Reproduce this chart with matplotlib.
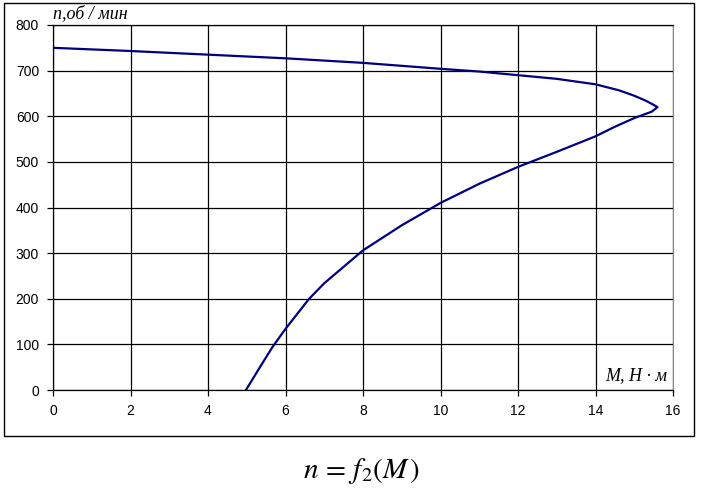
import matplotlib
matplotlib.use("Agg")
import matplotlib.pyplot as plt
from matplotlib.patches import Rectangle

# torque M (N*m) and speed n (rpm)
M = [0, 2, 4, 6, 8, 10, 11, 12, 13, 14, 14.6, 15.0, 15.3, 15.5, 15.6,
     15.45, 15.0, 14.5, 14, 13, 12, 11, 10, 9, 8, 7, 6.61, 6, 5.67, 5.34, 4.98]
n = [750, 743, 735, 727, 717, 704, 698, 690, 682, 670, 657, 645, 634, 625, 620,
     610, 596, 577, 556, 522, 489, 452, 410, 361, 306, 234, 200, 134, 95, 50, 0]

x_ticks = [0, 2, 4, 6, 8, 10, 12, 14, 16]
y_ticks = [0, 100, 200, 300, 400, 500, 600, 700, 800]

plt.rcParams['font.family'] = ['Liberation Sans', 'DejaVu Sans']
plt.rcParams['mathtext.fontset'] = 'stix'

fig = plt.figure(figsize=(7.02, 4.96), dpi=100)
ax = fig.add_axes([53 / 702, 1 - 390 / 496, 620 / 702, 365 / 496])

ax.plot(M, n, color='#000080', lw=1.6)
ax.set_xlim(0, 16)
ax.set_ylim(0, 800)
ax.set_xticks(x_ticks)
ax.set_yticks(y_ticks)
ax.grid(True, color='black', lw=0.9)
ax.tick_params(direction='out', length=4, width=0.9, labelsize=10, pad=6, color='black')
for s in ['left', 'bottom', 'top']:
    ax.spines[s].set_color('black')
    ax.spines[s].set_linewidth(0.9)
ax.spines['right'].set_color('#888888')

ax.text(0.0, 1.008, 'n,об / мин', transform=ax.transAxes, family='Liberation Serif',
        style='italic', fontsize=13, ha='left', va='bottom')
ax.text(0.99, 0.015, 'M, H · м', transform=ax.transAxes, family='Liberation Serif',
        style='italic', fontsize=13, ha='right', va='bottom')

# outer frame
fig.patches.append(Rectangle((4 / 702, 1 - 436 / 496), 690 / 702, 433 / 496,
                             transform=fig.transFigure, fill=False, ec='black', lw=1))

fig.text(0.515, 1 - 471 / 496, r'$n\,=\,f_2(M\,)$', ha='center', va='center', fontsize=21)

plt.savefig('out.png', dpi=100)
